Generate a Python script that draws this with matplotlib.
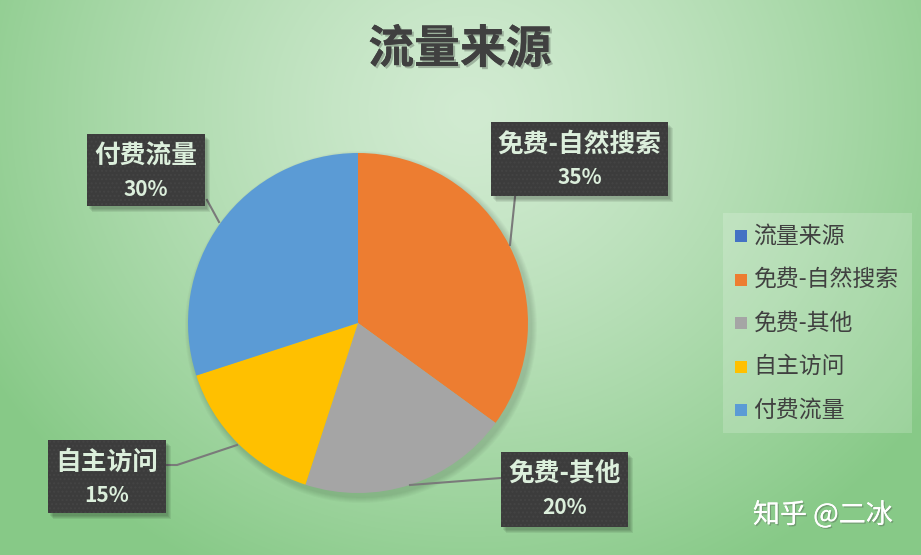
import numpy as np
import matplotlib
matplotlib.use("Agg")
import matplotlib.pyplot as plt
from matplotlib.patches import Rectangle, Circle
import matplotlib.patheffects as pe

plt.rcParams['font.family'] = ['Noto Sans CJK SC', 'DejaVu Sans']

# data
title = "流量来源"
labels = ["免费-自然搜索", "免费-其他", "自主访问", "付费流量"]
shares = [35, 20, 15, 30]
colors = ["#ED7D31", "#A5A5A5", "#FFC000", "#5B9BD5"]
legend_names = ["流量来源"] + labels
legend_colors = ["#4472C4"] + colors

W, H = 921, 555
fig = plt.figure(figsize=(W / 100, H / 100), dpi=100)
ax = fig.add_axes([0, 0, 1, 1])

# radial green background (row 0 = top of picture)
yy, xx = np.mgrid[0:H, 0:W]
d = np.sqrt(((xx - 470) / 560.0) ** 2 + ((yy - 110) / 520.0) ** 2)
d = np.clip(d, 0, 1) ** 1.3
inner = np.array([0.82, 0.92, 0.82])
outer = np.array([0.53, 0.79, 0.53])
img = inner[None, None, :] * (1 - d[..., None]) + outer[None, None, :] * d[..., None]
ax.imshow(img, extent=[0, W, 0, H], origin='upper', zorder=0, aspect='auto')

def py(y):
    return H - y

# pie
cx, cy, r = 358, py(323), 170
for k in range(6):
    ax.add_patch(Circle((cx + 3, cy - 4), r + 6 - k, color='black', alpha=0.025, lw=0, zorder=1))
ax.pie(shares, colors=colors, startangle=90, counterclock=False,
       center=(cx, cy), radius=r, frame=True,
       wedgeprops=dict(linewidth=0, zorder=2))
ax.set_xlim(0, W)
ax.set_ylim(0, H)
ax.axis('off')

# leader lines (pixel coords)
leaders = [
    [(515, 197), (510, 245)],
    [(410, 485), (501, 478)],
    [(166, 465), (177, 465), (237, 445)],
    [(207, 200), (219, 222)],
]
for pts in leaders:
    xs = [p[0] for p in pts]
    ys = [py(p[1]) for p in pts]
    ax.plot(xs, ys, color='#7a7a7a', lw=1.5, zorder=3)

# label boxes (x0, y0, x1, y1 in pixels)
boxes = [
    (491, 122, 668, 196),
    (501, 452, 628, 527),
    (48, 440, 166, 513),
    (87, 134, 205, 206),
]
for (x0, y0, x1, y1), lab, v in zip(boxes, labels, shares):
    for k in range(4):
        ax.add_patch(Rectangle((x0 + 2 + k, py(y1) - 3 - k), x1 - x0, y1 - y0,
                               color='black', alpha=0.07, lw=0, zorder=4))
    ax.add_patch(Rectangle((x0, py(y1)), x1 - x0, y1 - y0, facecolor='#3c3c3c',
                           edgecolor='#444444', hatch='....', lw=0, zorder=5))
    mx = (x0 + x1) / 2
    ax.text(mx, py(y0 + 22), lab, ha='center', va='center', fontsize=18.5,
            fontweight='bold', color='#dcefdc', zorder=6)
    ax.text(mx, py(y0 + 55), f"{v}%", ha='center', va='center', fontsize=15,
            fontweight='bold', color='#dcefdc', zorder=6)

# title
ax.text(460, py(50), title, ha='center', va='center', fontsize=33, fontweight='bold',
        color='#404040', zorder=6,
        path_effects=[pe.withSimplePatchShadow(offset=(1.5, -1.5), alpha=0.25), pe.Normal()])

# legend
ax.add_patch(Rectangle((723, py(433)), 912 - 723, 433 - 213, facecolor='white',
                       alpha=0.18, lw=0, zorder=4))
for i, (name, c) in enumerate(zip(legend_names, legend_colors)):
    yc = py(236 + i * 43.5)
    ax.add_patch(Rectangle((735, yc - 6), 12, 12, color=c, lw=0, zorder=5))
    ax.text(753, yc, name, ha='left', va='center', fontsize=16.5, color='#404040', zorder=6)

# watermark
ax.text(823, py(515), "知乎 @二冰", ha='center', va='center', fontsize=19.5, color='white',
        zorder=6, path_effects=[pe.withSimplePatchShadow(offset=(1, -1), alpha=0.35), pe.Normal()])

fig.savefig("out.png", dpi=100)
